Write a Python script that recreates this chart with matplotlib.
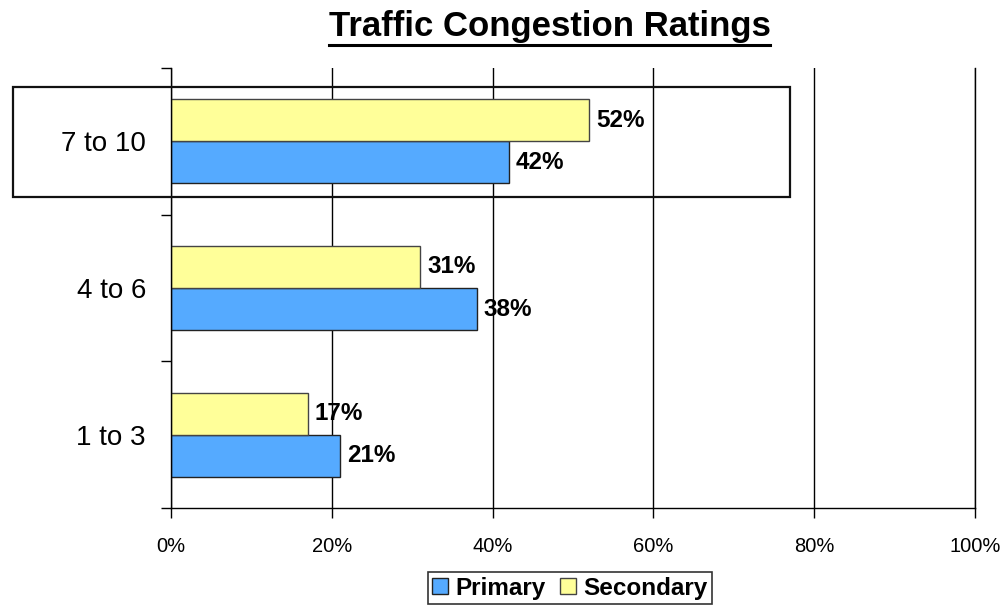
import matplotlib
matplotlib.use("Agg")
import matplotlib.pyplot as plt
import matplotlib.patches as mpatches
from matplotlib.lines import Line2D
import numpy as np

plt.rcParams['font.family'] = ['Liberation Sans', 'DejaVu Sans']

categories = ["1 to 3", "4 to 6", "7 to 10"]
primary = [21, 38, 42]
secondary = [17, 31, 52]
xticks = [0, 20, 40, 60, 80, 100]
xtick_labels = ["0%", "20%", "40%", "60%", "80%", "100%"]
title = "Traffic Congestion Ratings"

c_primary = "#55AAFF"
c_secondary = "#FFFF99"

W, H = 1004, 608
fig = plt.figure(figsize=(W / 100, H / 100), dpi=100)
ax = fig.add_axes([171 / W, 1 - 508 / H, (975 - 171) / W, (508 - 68) / H])

y = np.arange(len(categories))
bh = 0.287
bars_p = ax.barh(y - bh / 2, primary, height=bh, color=c_primary, edgecolor="#222222",
                 linewidth=1.0, label="Primary", zorder=3)
bars_s = ax.barh(y + bh / 2, secondary, height=bh, color=c_secondary, edgecolor="#444444",
                 linewidth=1.0, label="Secondary", zorder=3)

for bars, vals in ((bars_p, primary), (bars_s, secondary)):
    for b, v in zip(bars, vals):
        ax.annotate(f"{v}%", xy=(b.get_width(), b.get_y() + b.get_height() / 2),
                    xytext=(5, 0), textcoords="offset points", ha="left", va="center",
                    fontsize=17.5, fontweight="bold", zorder=5)

ax.set_xlim(0, 100)
ax.set_ylim(-0.5, len(categories) - 0.5)
ax.set_xticks(xticks)
ax.set_xticklabels(xtick_labels, fontsize=14.5)
ax.set_yticks(y)
ax.set_yticklabels(categories, fontsize=20)
ax.tick_params(axis="y", which="major", length=0, pad=18)
ax.set_yticks(np.arange(-0.5, len(categories), 1.0), minor=True)
ax.tick_params(axis="y", which="minor", length=7, width=1, direction="out", color="black")
ax.tick_params(axis="x", which="major", length=7, width=1, direction="out", pad=14)

ax.grid(axis="x", color="black", linewidth=1.0, zorder=1)
ax.set_axisbelow(True)
ax.spines["top"].set_visible(False)
for s in ("left", "bottom", "right"):
    ax.spines[s].set_linewidth(1.0)
    ax.spines[s].set_zorder(4)

# highlight box around top category
rect = mpatches.Rectangle((13 / W, 1 - 197 / H), (790 - 13) / W, (197 - 87) / H,
                          transform=fig.transFigure, fill=False, edgecolor="#111111",
                          linewidth=1.6, zorder=10)
fig.patches.append(rect)

# title with underline
t = fig.text(549.5 / W, 1 - 36 / H, title, ha="center", va="baseline",
             fontsize=25, fontweight="bold")
fig.canvas.draw()
bb = t.get_window_extent()
fig.add_artist(Line2D([bb.x0 / W, bb.x1 / W], [1 - 45 / H, 1 - 45 / H],
                      transform=fig.transFigure, color="black", linewidth=2.2))

# legend
handles = [mpatches.Patch(facecolor=c_primary, edgecolor="#222222", linewidth=1.0, label="Primary"),
           mpatches.Patch(facecolor=c_secondary, edgecolor="#444444", linewidth=1.0, label="Secondary")]
leg = fig.legend(handles=handles, loc="center", bbox_to_anchor=(570 / W, 1 - 588 / H),
                 ncol=2, frameon=True, fancybox=False, edgecolor="black",
                 prop={"size": 17.5, "weight": "bold"}, handlelength=0.65, handleheight=0.65,
                 handletextpad=0.3, columnspacing=0.6, borderpad=0.2, borderaxespad=0)
leg.get_frame().set_linewidth(1.2)

fig.savefig("out.png", dpi=100)
